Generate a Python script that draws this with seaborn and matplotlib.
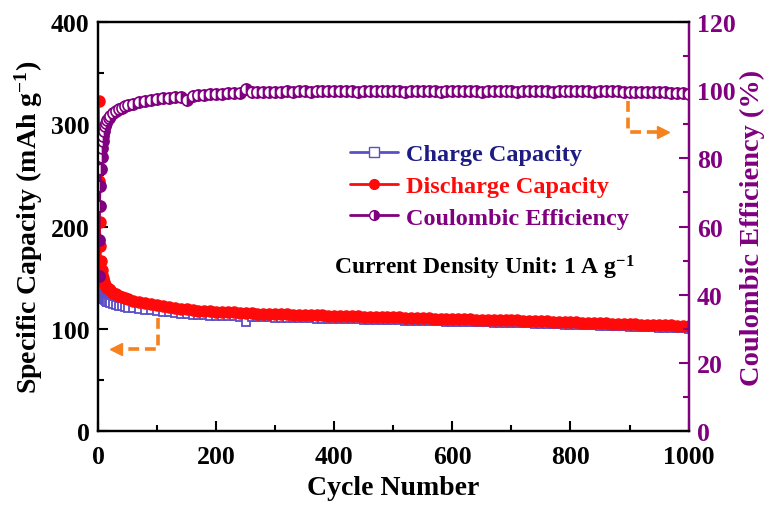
import matplotlib
matplotlib.use("Agg")
import matplotlib.pyplot as plt
import seaborn as sns
import pandas as pd
from matplotlib.lines import Line2D

# Cycle numbers at which the capacities / efficiency were sampled
cycles = [1, 2, 3, 4, 5, 6, 7, 8, 9, 10, 12, 14, 16, 18, 20, 25, 30, 35, 40, 45,
          50, 60, 70, 80, 90, 100] + list(range(110, 1001, 10))

# Discharge capacity (mAh g-1)
discharge = [323, 245, 204, 181, 166, 158, 153, 150, 148, 146, 143, 141, 139.5, 138.5, 137.5,
             135.5, 134, 132.5, 131, 130, 129, 127.5, 126.2, 125, 124, 123,
             122.2, 121.5, 120.6, 119.8, 119.0, 118.4, 117.9, 117.5, 117.1, 116.7,
             116.5, 116.2, 116.0, 115.7, 115.4, 115.3, 115.0, 114.8, 114.7, 114.5,
             114.3, 114.2, 114.0, 113.8, 113.7, 113.5, 113.3, 113.1, 113.0, 112.8,
             112.7, 112.5, 112.4, 112.2, 112.0, 111.9, 111.8, 111.6, 111.5, 111.3,
             111.1, 111.0, 110.8, 110.7, 110.5, 110.3, 110.1, 109.9, 109.8, 109.6,
             109.5, 109.4, 109.3, 109.1, 109.0, 108.9, 108.8, 108.6, 108.5, 108.3,
             108.2, 108.0, 107.8, 107.6, 107.4, 107.3, 107.1, 106.9, 106.7, 106.5,
             106.3, 106.1, 105.9, 105.8, 105.6, 105.4, 105.2, 105.0, 104.8, 104.6,
             104.4, 104.2, 104.0, 103.9, 103.7, 103.5, 103.3, 103.1, 102.9, 102.6]

# Charge capacity (mAh g-1)
charge = [147, 138, 136, 134, 133, 132, 131, 130, 129.5, 129, 128, 127.3, 126.6, 126, 125.5,
          124.5, 123.6, 122.8, 122.0, 121.4, 120.8, 120.0, 119.3, 118.7, 118.1, 117.5,
          116.8, 116.2, 115.6, 115.0, 114.4, 114.0, 113.6, 113.3, 113.0, 112.8,
          112.6, 112.4, 112.2, 112.0, 106.5, 111.6, 111.5, 111.3, 111.2, 111.0,
          110.9, 110.8, 110.6, 110.5, 110.4, 110.2, 110.1, 109.9, 109.8, 109.7,
          109.6, 109.4, 109.3, 109.2, 109.0, 108.9, 108.8, 108.6, 108.5, 108.4,
          108.2, 108.1, 108.0, 107.8, 107.7, 107.5, 107.4, 107.2, 107.1, 107.0,
          106.9, 106.8, 106.7, 106.5, 106.4, 106.3, 106.2, 106.0, 105.9, 105.8,
          105.6, 105.5, 105.3, 105.1, 104.9, 104.8, 104.6, 104.4, 104.2, 104.0,
          103.8, 103.6, 103.4, 103.3, 103.1, 102.9, 102.7, 102.5, 102.3, 102.1,
          101.9, 101.7, 101.5, 101.4, 101.2, 101.0, 100.8, 100.6, 100.4, 100.1]

# Coulombic efficiency (%)
efficiency = [45.5, 56, 66, 72, 77, 80.5, 83, 85, 86.5, 88, 89.5, 90.5, 91.2, 91.8, 92.3,
              93.2, 93.9, 94.4, 94.9, 95.3, 95.6, 96.1, 96.5, 96.8, 97.1, 97.4,
              97.6, 97.8, 98.0, 98.1, 97.0, 98.3, 98.5, 98.6, 98.8, 98.9,
              99.0, 99.1, 99.2, 99.3, 100.4, 99.4, 99.4, 99.5, 99.5, 99.6,
              99.6, 99.7, 99.6, 99.7, 99.7, 99.6, 99.7, 99.8, 99.7, 99.7,
              99.8, 99.7, 99.7, 99.6, 99.7, 99.8, 99.7, 99.7, 99.8, 99.7,
              99.7, 99.6, 99.7, 99.7, 99.8, 99.7, 99.7, 99.6, 99.7, 99.8,
              99.7, 99.7, 99.8, 99.7, 99.6, 99.7, 99.7, 99.8, 99.7, 99.7,
              99.6, 99.7, 99.7, 99.8, 99.7, 99.7, 99.6, 99.7, 99.7, 99.7,
              99.8, 99.7, 99.7, 99.6, 99.7, 99.7, 99.8, 99.7, 99.6, 99.6,
              99.6, 99.5, 99.6, 99.5, 99.4, 99.4, 99.3, 99.2, 99.1, 98.9]

df = pd.DataFrame({"cycle": cycles, "charge": charge,
                   "discharge": discharge, "ce": efficiency})

sns.set_theme(style="ticks")
plt.rcParams["font.family"] = ["Liberation Serif", "DejaVu Serif"]
plt.rcParams["font.weight"] = "bold"
plt.rcParams["text.color"] = "black"
plt.rcParams["axes.labelcolor"] = "black"
plt.rcParams["xtick.color"] = "black"
plt.rcParams["ytick.color"] = "black"
plt.rcParams["mathtext.fontset"] = "custom"
plt.rcParams["mathtext.rm"] = "Liberation Serif:bold"
plt.rcParams["mathtext.it"] = "Liberation Serif:bold"
plt.rcParams["mathtext.bf"] = "Liberation Serif:bold"
plt.rcParams["mathtext.default"] = "rm"

BLUE = "#5B4FC8"
NAVY = "#1C1C84"
RED = "#FF0A0A"
PURPLE = "#800080"
ORANGE = "#F5821F"

fig = plt.figure(figsize=(7.67, 5.06), dpi=100)
ax = fig.add_axes([0.1278, 0.146, 0.770, 0.8085])
ax2 = ax.twinx()

sns.lineplot(data=df, x="cycle", y="charge", ax=ax, color=BLUE, lw=1.5,
             marker="s", markersize=6, markerfacecolor="white",
             markeredgecolor=BLUE, markeredgewidth=1.3)
sns.lineplot(data=df, x="cycle", y="discharge", ax=ax, color=RED, lw=1.5,
             marker="o", markersize=8, markerfacecolor=RED,
             markeredgecolor=RED, markeredgewidth=1)
sns.lineplot(data=df, x="cycle", y="ce", ax=ax2, color=PURPLE, lw=1.5,
             marker="o", markersize=8, fillstyle="right",
             markerfacecolor=PURPLE, markerfacecoloralt="white",
             markeredgecolor=PURPLE, markeredgewidth=1.2)

ax.set_xlim(0, 1000)
ax.set_ylim(0, 400)
ax2.set_ylim(0, 120)
ax.set_xticks([0, 200, 400, 600, 800, 1000])
ax.set_xticks([100, 300, 500, 700, 900], minor=True)
ax.set_yticks([0, 100, 200, 300, 400])
ax.set_yticks([50, 150, 250, 350], minor=True)
ax2.set_yticks([0, 20, 40, 60, 80, 100, 120])
ax2.set_yticks([10, 30, 50, 70, 90, 110], minor=True)

for a in (ax, ax2):
    for s in a.spines.values():
        s.set_linewidth(1.6)
        s.set_color("black")
ax2.spines["right"].set_color(PURPLE)

ax.tick_params(axis="both", which="major", direction="in", length=7, width=1.5,
               labelsize=18.5, colors="black")
ax.tick_params(axis="x", which="major", pad=10)
ax.tick_params(axis="y", which="major", pad=6)
ax.tick_params(axis="both", which="minor", direction="in", length=4, width=1.5,
               colors="black")
ax.tick_params(axis="x", which="both", top=False)
ax2.tick_params(axis="y", which="major", direction="in", length=7, width=1.5,
                labelsize=18.5, colors=PURPLE, pad=6)
ax2.tick_params(axis="y", which="minor", direction="in", length=4, width=1.5,
                colors=PURPLE)
for lab in ax.get_xticklabels() + ax.get_yticklabels() + ax2.get_yticklabels():
    lab.set_fontweight("bold")

ax.set_xlabel("Cycle Number", fontsize=20, fontweight="bold", labelpad=5)
ax.set_ylabel("Specific Capacity (mAh g$^{-1}$)", fontsize=20,
              fontweight="bold", labelpad=4)
ax2.set_ylabel("Coulombic Efficiency (%)", fontsize=20.5, fontweight="bold",
               color=PURPLE, labelpad=3)

# Orange guide arrows pointing at the axis each series belongs to
dash = dict(color=ORANGE, lw=2.6, ls=(0, (3, 1.6)), solid_capstyle="butt",
            dash_capstyle="butt", zorder=5)
ax.plot([101, 101, 38], [111, 80, 80], **dash)
ax.plot([30], [80], marker="<", color=ORANGE, markersize=9, zorder=5)
ax2.plot([897, 897, 948], [96.8, 87.7, 87.7], **dash)
ax2.plot([956], [87.7], marker=">", color=ORANGE, markersize=9, zorder=5)

ax.text(0.40, 0.385, "Current Density Unit: 1 A g$^{-1}$", transform=ax.transAxes,
        fontsize=17, fontweight="bold", color="black")

handles = [
    Line2D([], [], color=BLUE, lw=2, marker="s", markersize=7,
           markerfacecolor="white", markeredgecolor=BLUE),
    Line2D([], [], color=RED, lw=2, marker="o", markersize=7,
           markerfacecolor=RED, markeredgecolor=RED),
    Line2D([], [], color=PURPLE, lw=2, marker="o", markersize=7, fillstyle="right",
           markerfacecolor=PURPLE, markerfacecoloralt="white",
           markeredgecolor=PURPLE),
]
leg = ax2.legend(handles, ["Charge Capacity", "Discharge Capacity",
                           "Coulombic Efficiency"],
                 loc="upper left", bbox_to_anchor=(0.41, 0.727), frameon=False,
                 fontsize=17.5, handlelength=2.0, handletextpad=0.3,
                 labelspacing=0.4, borderaxespad=0)
for t, c in zip(leg.get_texts(), [NAVY, RED, PURPLE]):
    t.set_color(c)
    t.set_fontweight("bold")

fig.savefig("out.png", dpi=100)
